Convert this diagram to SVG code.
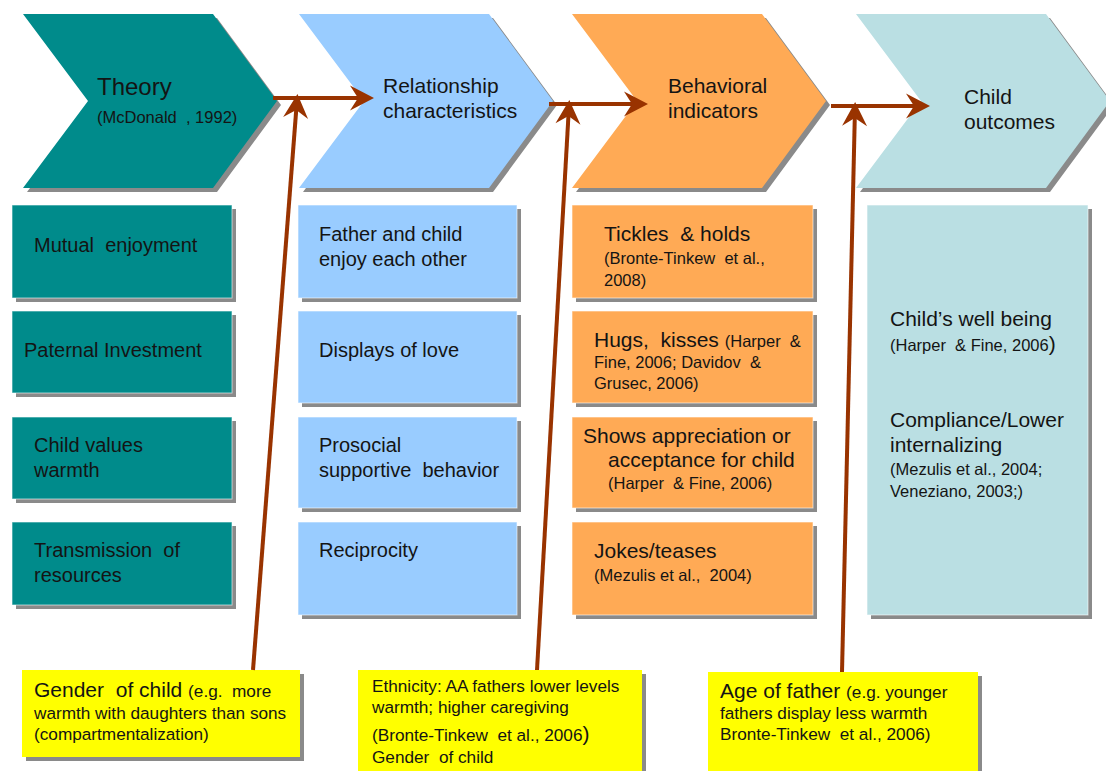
<svg xmlns="http://www.w3.org/2000/svg" width="1106" height="771" viewBox="0 0 1106 771">
  <style>
    text { font-family: "Liberation Sans", Arial, sans-serif; fill: #141414; white-space: pre; }
    .t { font-size: 21px; }
    .tt { font-size: 20px; }
    .big { font-size: 24px; }
    .s { font-size: 16.5px; }
    .y { font-size: 17.2px; }
    .shadow { fill: #8a8a8a; }
    .teal { fill: #008b8b; }
    .blue { fill: #99ccff; }
    .orange { fill: #ffaa55; }
    .cyan { fill: #badfe3; }
    .yellow { fill: #ffff00; }
    .edge { stroke: #ffffff; stroke-opacity: 0.6; stroke-width: 1; }
    .conn { stroke: #993300; stroke-width: 4; fill: none; marker-end: url(#head); }
  </style>
  <defs>
    <marker id="head" viewBox="0 0 28 28" refX="20" refY="14" markerWidth="28" markerHeight="28" markerUnits="userSpaceOnUse" orient="auto">
      <path d="M2,1.5 L26,14 L2,26.5 L10,14 Z" fill="#993300"/>
    </marker>
    <polygon id="chev" points="0,0 190,0 254,87 190,174 0,174 65,87"/>
  </defs>

  <rect width="1106" height="771" fill="#ffffff"/>

  <!-- Stage chevrons -->
  <g id="stage-theory">
    <use href="#chev" x="27" y="18" class="shadow"/>
    <use href="#chev" x="23" y="14" class="teal"/>
    <text x="97" y="95" class="big">Theory</text>
    <text x="97" y="123" class="s">(McDonald  , 1992)</text>
  </g>
  <g id="stage-relationship">
    <use href="#chev" x="303" y="18" class="shadow"/>
    <use href="#chev" x="299" y="14" class="blue"/>
    <text x="383" y="93" class="t">Relationship</text>
    <text x="383" y="118" class="t">characteristics</text>
  </g>
  <g id="stage-behavioral">
    <use href="#chev" x="576" y="18" class="shadow"/>
    <use href="#chev" x="572" y="14" class="orange"/>
    <text x="668" y="93" class="t">Behavioral</text>
    <text x="668" y="118" class="t">indicators</text>
  </g>
  <g id="stage-outcomes">
    <use href="#chev" x="860" y="18" class="shadow"/>
    <use href="#chev" x="856" y="14" class="cyan"/>
    <text x="964" y="104" class="t">Child</text>
    <text x="964" y="129" class="t">outcomes</text>
  </g>

  <!-- Theory column -->
  <g id="theory-mutual-enjoyment">
    <rect x="16" y="209" width="220" height="93" class="shadow"/>
    <rect x="12" y="205" width="220" height="93" class="teal edge"/>
    <text x="34" y="252" class="tt">Mutual  enjoyment</text>
  </g>
  <g id="theory-paternal-investment">
    <rect x="16" y="315" width="220" height="82" class="shadow"/>
    <rect x="12" y="311" width="220" height="82" class="teal edge"/>
    <text x="24" y="357" class="tt">Paternal Investment</text>
  </g>
  <g id="theory-child-values">
    <rect x="16" y="421" width="220" height="82" class="shadow"/>
    <rect x="12" y="417" width="220" height="82" class="teal edge"/>
    <text x="34" y="452" class="tt">Child values</text>
    <text x="34" y="477" class="tt">warmth</text>
  </g>
  <g id="theory-transmission">
    <rect x="16" y="526" width="220" height="83" class="shadow"/>
    <rect x="12" y="522" width="220" height="83" class="teal edge"/>
    <text x="34" y="557" class="tt">Transmission  of</text>
    <text x="34" y="582" class="tt">resources</text>
  </g>

  <!-- Relationship column -->
  <g id="rel-enjoy">
    <rect x="302" y="209" width="219" height="93" class="shadow"/>
    <rect x="298" y="205" width="219" height="93" class="blue edge"/>
    <text x="319" y="241" class="tt">Father and child</text>
    <text x="319" y="266" class="tt">enjoy each other</text>
  </g>
  <g id="rel-love">
    <rect x="302" y="315" width="219" height="92" class="shadow"/>
    <rect x="298" y="311" width="219" height="92" class="blue edge"/>
    <text x="319" y="357" class="tt">Displays of love</text>
  </g>
  <g id="rel-prosocial">
    <rect x="302" y="421" width="219" height="91" class="shadow"/>
    <rect x="298" y="417" width="219" height="91" class="blue edge"/>
    <text x="319" y="452" class="tt">Prosocial</text>
    <text x="319" y="477" class="tt">supportive  behavior</text>
  </g>
  <g id="rel-reciprocity">
    <rect x="302" y="526" width="219" height="93" class="shadow"/>
    <rect x="298" y="522" width="219" height="93" class="blue edge"/>
    <text x="319" y="557" class="tt">Reciprocity</text>
  </g>

  <!-- Behavioral column -->
  <g id="beh-tickles">
    <rect x="576" y="209" width="241" height="93" class="shadow"/>
    <rect x="572" y="205" width="241" height="93" class="orange edge"/>
    <text x="604" y="241" class="t">Tickles  &amp; holds</text>
    <text x="604" y="264" class="s">(Bronte-Tinkew  et al.,</text>
    <text x="604" y="286" class="s">2008)</text>
  </g>
  <g id="beh-hugs">
    <rect x="576" y="315" width="241" height="92" class="shadow"/>
    <rect x="572" y="311" width="241" height="92" class="orange edge"/>
    <text x="594" y="347"><tspan class="t">Hugs,  kisses </tspan><tspan class="s">(Harper  &amp;</tspan></text>
    <text x="594" y="368" class="s">Fine, 2006; Davidov  &amp;</text>
    <text x="594" y="389" class="s">Grusec, 2006)</text>
  </g>
  <g id="beh-appreciation">
    <rect x="576" y="421" width="241" height="91" class="shadow"/>
    <rect x="572" y="417" width="241" height="91" class="orange edge"/>
    <text x="583" y="443" class="t">Shows appreciation or</text>
    <text x="608" y="467" class="t">acceptance for child</text>
    <text x="608" y="489" class="s">(Harper  &amp; Fine, 2006)</text>
  </g>
  <g id="beh-jokes">
    <rect x="576" y="526" width="241" height="93" class="shadow"/>
    <rect x="572" y="522" width="241" height="93" class="orange edge"/>
    <text x="594" y="558" class="t">Jokes/teases</text>
    <text x="594" y="581" class="s">(Mezulis et al.,  2004)</text>
  </g>

  <!-- Outcomes column -->
  <g id="outcomes-box">
    <rect x="871" y="209" width="221" height="410" class="shadow"/>
    <rect x="867" y="205" width="221" height="410" class="cyan edge"/>
    <text x="890" y="326" class="t">Child’s well being</text>
    <text x="890" y="351"><tspan class="s">(Harper  &amp; Fine, 2006</tspan><tspan class="t">)</tspan></text>
    <text x="890" y="427" class="t">Compliance/Lower</text>
    <text x="890" y="452" class="t">internalizing</text>
    <text x="890" y="475" class="s">(Mezulis et al., 2004;</text>
    <text x="890" y="497" class="s">Veneziano, 2003;)</text>
  </g>

  <!-- Moderator notes -->
  <g id="mod-gender">
    <rect x="26" y="674" width="278" height="87" class="shadow"/>
    <rect x="22" y="670" width="278" height="87" class="yellow"/>
    <text x="34" y="697"><tspan class="t">Gender  of child </tspan><tspan class="y">(e.g.  more</tspan></text>
    <text x="34" y="719" class="y">warmth with daughters than sons</text>
    <text x="34" y="740" class="y">(compartmentalization)</text>
  </g>
  <g id="mod-ethnicity">
    <rect x="362" y="674" width="284" height="100" class="shadow"/>
    <rect x="358" y="670" width="284" height="101" class="yellow"/>
    <text x="372" y="692" class="y">Ethnicity: AA fathers lower levels</text>
    <text x="372" y="713" class="y">warmth; higher caregiving</text>
    <text x="372" y="741"><tspan class="y">(Bronte-Tinkew  et al., 2006</tspan><tspan class="t">)</tspan></text>
    <text x="372" y="763" class="y">Gender  of child</text>
  </g>
  <g id="mod-age">
    <rect x="712" y="676" width="270" height="98" class="shadow"/>
    <rect x="708" y="672" width="270" height="99" class="yellow"/>
    <text x="720" y="698"><tspan class="t">Age of father </tspan><tspan class="y">(e.g. younger</tspan></text>
    <text x="720" y="719" class="y">fathers display less warmth</text>
    <text x="720" y="740" class="y">Bronte-Tinkew  et al., 2006)</text>
  </g>

  <!-- Connectors -->
  <g id="connectors">
    <line x1="273" y1="98" x2="368" y2="98" class="conn"/>
    <line x1="549" y1="104" x2="642" y2="104" class="conn"/>
    <line x1="831" y1="106" x2="924" y2="106" class="conn"/>
    <line x1="253" y1="670" x2="297" y2="100" class="conn"/>
    <line x1="537" y1="670" x2="569" y2="106" class="conn"/>
    <line x1="842" y1="672" x2="855" y2="108" class="conn"/>
  </g>
</svg>
